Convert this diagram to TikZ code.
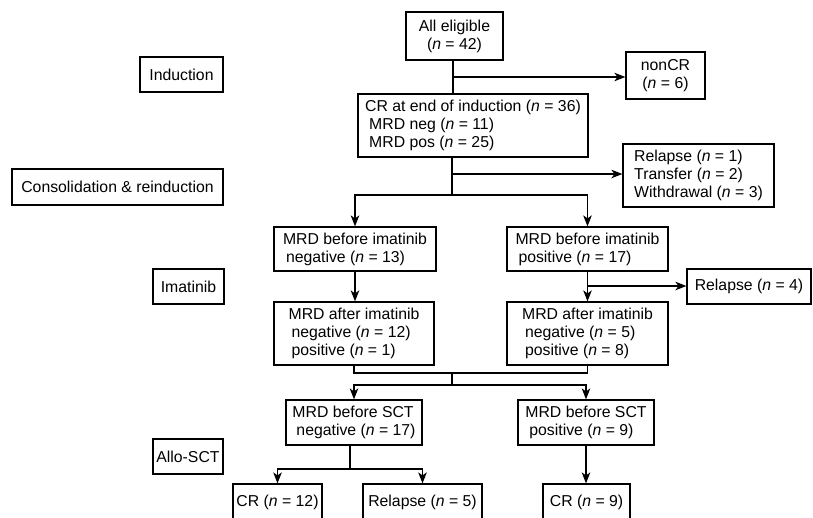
\documentclass[tikz,border=0pt]{standalone}
\usepackage{fontspec}
\setmainfont{Liberation Sans}
\usetikzlibrary{arrows.meta}
\begin{document}
\begin{tikzpicture}[x=1pt,y=-1pt,
  box/.style={draw, line width=1.2pt, inner sep=0pt, align=left, font=\fontsize{15.8}{18}\selectfont},
  cbox/.style={box, align=center},
  ln/.style={line width=1.2pt},
  arr/.style={line width=1.2pt, -{Stealth[length=11pt,width=8.5pt,inset=3pt]}}]
\useasboundingbox (0,0) rectangle (813,517);
\clip (0,0) rectangle (813,517);
\fill[white] (0,0) rectangle (813,517);
% stage labels
\node[cbox, minimum width=83, minimum height=35] (ind) at (181.5,74.5) {Induction};
\node[cbox, minimum width=211, minimum height=36] (cons) at (117.5,187) {Consolidation \& reinduction};
\node[cbox, minimum width=71, minimum height=35] (ima) at (188.5,286.5) {Imatinib};
\node[cbox, minimum width=70, minimum height=35] (allo) at (188,456.5) {Allo-SCT};
% flow boxes
\node[cbox, minimum width=97, minimum height=48] (ae) at (454.5,36) {All eligible\\(\textit{n} = 42)};
\node[cbox, minimum width=79, minimum height=47] (noncr) at (665.5,75.5) {nonCR\\(\textit{n} = 6)};
\node[box, minimum width=230, minimum height=63] (cr) at (473,125.5) {CR at end of induction (\textit{n} = 36)\\\hspace*{4pt}MRD neg (\textit{n} = 11)\\\hspace*{4pt}MRD pos (\textit{n} = 25)};
\node[box, minimum width=151, minimum height=63] (rel1) at (698.5,175.5) {Relapse (\textit{n} = 1)\\Transfer (\textit{n} = 2)\\Withdrawal (\textit{n} = 3)};
\node[box, minimum width=162, minimum height=44] (bneg) at (355,249) {MRD before imatinib\\\hspace*{3pt}negative (\textit{n} = 13)};
\node[box, minimum width=161, minimum height=44] (bpos) at (587.5,249) {MRD before imatinib\\\hspace*{3pt}positive (\textit{n} = 17)};
\node[box, minimum width=160, minimum height=63] (aneg) at (354,333.5) {MRD after imatinib\\\hspace*{3pt}negative (\textit{n} = 12)\\\hspace*{3pt}positive (\textit{n} = 1)};
\node[box, minimum width=161, minimum height=63] (apos) at (587.5,333.5) {MRD after imatinib\\\hspace*{3pt}negative (\textit{n} = 5)\\\hspace*{3pt}positive (\textit{n} = 8)};
\node[cbox, minimum width=124, minimum height=35] (rel4) at (749,286.5) {Relapse (\textit{n} = 4)};
\node[box, minimum width=136, minimum height=45] (sneg) at (354,422.5) {MRD before SCT\\\hspace*{4pt}negative (\textit{n} = 17)};
\node[box, minimum width=136, minimum height=45] (spos) at (586,422.5) {MRD before SCT\\\hspace*{4pt}positive (\textit{n} = 9)};
\node[cbox, minimum width=89, minimum height=36] (cr12) at (277.5,502) {CR (\textit{n} = 12)};
\node[cbox, minimum width=119, minimum height=36] (rel5) at (422.5,502) {Relapse (\textit{n} = 5)};
\node[cbox, minimum width=87, minimum height=36] (cr9) at (586.5,502) {CR (\textit{n} = 9)};
% junctions
\coordinate (j1) at (453,77);
\coordinate (j2) at (452,174);
\coordinate (j3) at (452,195);
\coordinate (j4) at (587.5,286);
\coordinate (j5) at (452,373);
\coordinate (j6) at (452,385);
\coordinate (j7) at (350,469);
% connectors
\draw[ln] (ae.south -| j1) -- (cr.north -| j1);
\draw[arr] (j1) -- (noncr.west |- j1);
\draw[ln] (cr.south -| j2) -- (j3);
\draw[arr] (j2) -- (rel1.west |- j2);
\draw[arr] (j3) -| (bneg.north);
\draw[arr] (j3) -| (bpos.north);
\draw[arr] (bneg.south) -- (aneg.north -| bneg.south);
\draw[arr] (bpos.south) -- (apos.north);
\draw[arr] (j4) -- (rel4.west |- j4);
\draw[ln] (aneg.south) |- (j5) -| (apos.south);
\draw[ln] (j5) -- (j6);
\draw[arr] (j6) -| (sneg.north);
\draw[arr] (j6) -| (spos.north);
\draw[ln] (sneg.south -| j7) -- (j7);
\draw[arr] (j7) -| (cr12.north);
\draw[arr] (j7) -| (rel5.north);
\draw[arr] (spos.south) -- (cr9.north -| spos.south);
\end{tikzpicture}
\end{document}
